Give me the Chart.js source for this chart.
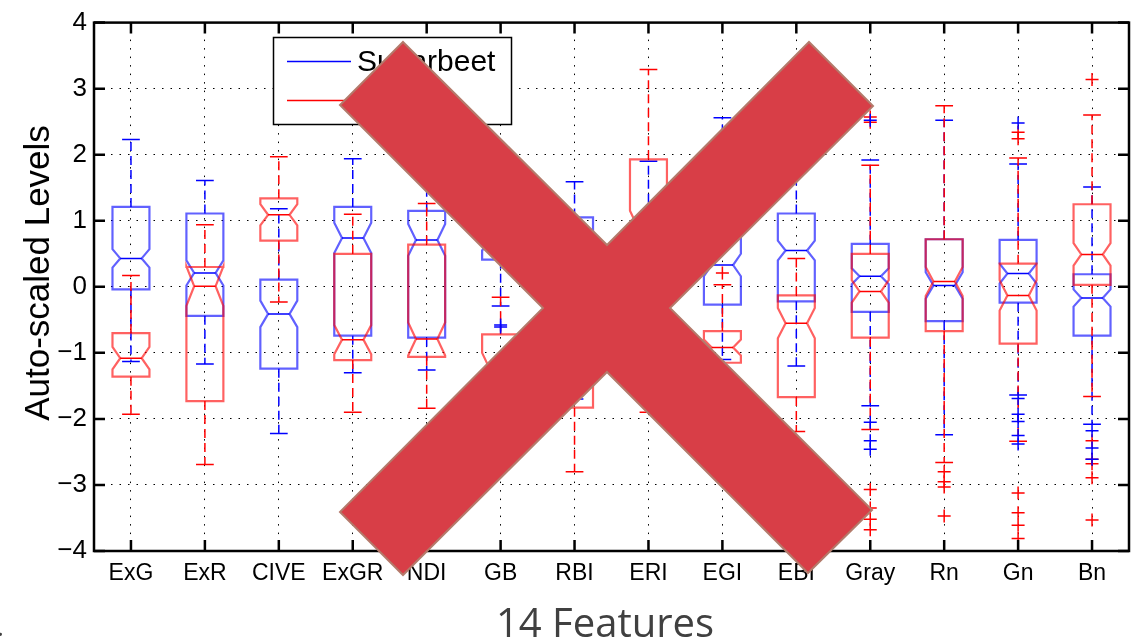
<!DOCTYPE html>
<html><head><meta charset="utf-8">
<script src="https://cdn.jsdelivr.net/npm/chart.js@4.4.1/dist/chart.umd.min.js"></script>
<style>
html,body{margin:0;padding:0;background:#fff;}
#wrap{position:relative;width:1137px;height:644px;overflow:hidden;background:#fff;}
#c{position:absolute;left:0;top:0;}
#xov{position:absolute;left:0;top:0;pointer-events:none;}
#feat{position:absolute;left:405px;width:400px;top:602px;text-align:center;font-family:'Open Sans',sans-serif;font-size:40px;line-height:1;color:#404040;white-space:nowrap;}
#dot{position:absolute;left:-3px;top:613px;font-family:'Open Sans',sans-serif;font-size:26px;line-height:1;color:#404040;}
</style></head>
<body>
<div id="wrap">
<canvas id="c" width="1137" height="644"></canvas>
<svg id="xov" width="1137" height="644"><polygon points="403,42 607,245 809,42 873,106 670,308 872,510 808,573 607,372 403,575 340,512 543,308 340,105" fill="#d83e47" stroke="#b47a6b" stroke-width="2" stroke-linejoin="miter"/></svg>
<div id="feat">14 Features</div>
<div id="dot">.</div>
</div>
<script>
const categories = ['ExG','ExR','CIVE','ExGR','NDI','GB','RBI','ERI','EGI','EBI','Gray','Rn','Gn','Bn'];
const yTicks = [-4,-3,-2,-1,0,1,2,3,4];
const seriesNames = ['Sugarbeet','Weed'];

// Sugarbeet (blue)
const sbUpper  = [2.23,1.61,1.18,1.94,1.60,1.90,1.59,1.90,2.56,1.75,1.92,2.52,1.86,1.51];
const sbQ3     = [1.21,1.11,0.11,1.21,1.15,1.00,1.05,0.85,1.05,1.11,0.65,0.72,0.71,0.19];
const sbMedian = [0.43,0.21,-0.41,0.74,0.71,0.70,0.35,0.20,0.33,0.55,0.16,0.02,0.20,-0.17];
const sbQ1     = [-0.04,-0.44,-1.24,-0.74,-0.77,0.41,-0.45,-0.50,-0.27,-0.22,-0.38,-0.52,-0.24,-0.74];
const sbLower  = [-1.13,-1.17,-2.22,-1.30,-1.26,-0.29,-1.70,-1.60,-1.10,-1.20,-1.80,-2.24,-1.64,-2.08];
const sbNotch  = [0.14,0.19,0.20,0.23,0.24,0.15,0.20,0.20,0.17,0.15,0.12,0.20,0.15,0.13];
const sbOutliers = [[],[],[],[],[],[-0.58,-0.61],[],[],[],[],[2.52,-2.05,-2.33,-2.46],[],[2.48,-1.69,-1.93,-2.04,-2.25,-2.38],[-2.18,-2.44,-2.61]];

// Weed (red)
const wdUpper  = [0.17,0.94,1.97,1.10,1.26,-0.16,0.90,3.29,0.03,0.43,1.84,2.74,1.95,2.60];
const wdQ3     = [-0.70,0.30,1.34,0.50,0.64,-0.72,0.20,1.93,-0.67,-0.13,0.50,0.72,0.35,1.25];
const wdMedian = [-1.08,0.01,1.09,-0.80,-0.79,-1.25,-0.60,0.90,-0.92,-0.55,-0.07,0.08,-0.13,0.49];
const wdQ1     = [-1.36,-1.73,0.70,-1.11,-1.06,-1.75,-1.83,-0.40,-1.15,-1.67,-0.77,-0.67,-0.86,0.03];
const wdLower  = [-1.93,-2.69,-0.23,-1.90,-1.84,-2.70,-2.80,-1.90,-1.70,-2.19,-2.16,-2.66,-2.34,-1.66];
const wdNotch  = [0.17,0.30,0.16,0.22,0.25,0.25,0.25,0.25,0.12,0.23,0.17,0.22,0.23,0.17];
const wdOutliers = [[],[],[],[],[],[],[],[],[0.21],[],[2.57,2.49,-3.07,-3.35,-3.52,-3.68],[-2.80,-2.95,-3.03,-3.47],[2.34,2.24,-3.12,-3.42,-3.61,-3.81],[3.14,-2.33,-2.61,-2.68,-2.89,-3.53]];

const BLUE = '0,0,255', RED = '255,0,0';
const BOX_W = 0.5, CAP_W = 0.24, NOTCH_RATIO = 0.58;
const FONT = "'Liberation Sans', Arial, Helvetica, sans-serif";

function toPoints(outs){
  const pts = [];
  outs.forEach((arr,i)=>arr.forEach(v=>pts.push({x:i+1,y:v})));
  return pts;
}

function drawSeries(ctx, xs, ys, up, q3, med, q1, lo, notch, rgb){
  for(let i=0;i<categories.length;i++){
    const cx = xs.getPixelForValue(i+1);
    const half = xs.getPixelForValue(i+1+BOX_W/2) - cx;
    const nh = half*NOTCH_RATIO;
    const ch = xs.getPixelForValue(i+1+CAP_W/2) - cx;
    const yU = ys.getPixelForValue(up[i]), yQ3 = ys.getPixelForValue(q3[i]);
    const yM = ys.getPixelForValue(med[i]), yQ1 = ys.getPixelForValue(q1[i]);
    const yL = ys.getPixelForValue(lo[i]);
    const yNt = ys.getPixelForValue(med[i]+notch[i]), yNb = ys.getPixelForValue(med[i]-notch[i]);
    ctx.strokeStyle = 'rgb('+rgb+')';
    ctx.lineWidth = 1.5;
    ctx.setLineDash([9,5]);
    ctx.beginPath();
    ctx.moveTo(cx,yQ3); ctx.lineTo(cx,yU);
    ctx.moveTo(cx,yQ1); ctx.lineTo(cx,yL);
    ctx.stroke();
    ctx.setLineDash([]);
    ctx.beginPath();
    ctx.moveTo(cx-ch,yU); ctx.lineTo(cx+ch,yU);
    ctx.moveTo(cx-ch,yL); ctx.lineTo(cx+ch,yL);
    ctx.stroke();
    ctx.strokeStyle = 'rgba('+rgb+',0.62)';
    ctx.lineWidth = 2.2;
    ctx.beginPath();
    ctx.moveTo(cx-half,yQ3); ctx.lineTo(cx+half,yQ3);
    ctx.lineTo(cx+half,yNt); ctx.lineTo(cx+nh,yM); ctx.lineTo(cx+half,yNb);
    ctx.lineTo(cx+half,yQ1); ctx.lineTo(cx-half,yQ1);
    ctx.lineTo(cx-half,yNb); ctx.lineTo(cx-nh,yM); ctx.lineTo(cx-half,yNt);
    ctx.closePath();
    ctx.stroke();
    ctx.strokeStyle = 'rgb('+rgb+')';
    ctx.lineWidth = 1.5;
    ctx.beginPath();
    ctx.moveTo(cx-nh,yM); ctx.lineTo(cx+nh,yM);
    ctx.stroke();
  }
}

const boxPlugin = {
  id:'notchedBoxes',
  beforeDatasetsDraw(chart){
    const {ctx, chartArea:a, scales:{x,y}} = chart;
    ctx.save();
    ctx.beginPath(); ctx.rect(a.left,a.top,a.right-a.left,a.bottom-a.top); ctx.clip();
    drawSeries(ctx,x,y,sbUpper,sbQ3,sbMedian,sbQ1,sbLower,sbNotch,BLUE);
    drawSeries(ctx,x,y,wdUpper,wdQ3,wdMedian,wdQ1,wdLower,wdNotch,RED);
    ctx.restore();
  },
  afterDraw(chart){
    const {ctx, chartArea:a, scales:{x,y}} = chart;
    ctx.save();
    ctx.strokeStyle = '#000'; ctx.lineWidth = 2.5; ctx.setLineDash([]);
    ctx.strokeRect(a.left,a.top,a.right-a.left,a.bottom-a.top);
    ctx.beginPath();
    categories.forEach((c,i)=>{
      const px = x.getPixelForValue(i+1);
      ctx.moveTo(px,a.top); ctx.lineTo(px,a.top+11);
      ctx.moveTo(px,a.bottom); ctx.lineTo(px,a.bottom-11);
    });
    yTicks.forEach(v=>{
      const py = y.getPixelForValue(v);
      ctx.moveTo(a.left,py); ctx.lineTo(a.left+11,py);
      ctx.moveTo(a.right,py); ctx.lineTo(a.right-11,py);
    });
    ctx.stroke();
    ctx.save();
    ctx.translate(39, 273);
    ctx.rotate(-Math.PI/2);
    ctx.fillStyle = '#000';
    ctx.font = '35px ' + FONT;
    ctx.textAlign = 'center'; ctx.textBaseline = 'middle';
    ctx.fillText('Auto-scaled Levels',0,0);
    ctx.restore();
    ctx.fillStyle = '#fff';
    ctx.fillRect(273.5,37.5,238,87);
    ctx.strokeStyle = '#000'; ctx.lineWidth = 1.5;
    ctx.strokeRect(273.5,37.5,238,87);
    ctx.strokeStyle = 'rgb('+BLUE+')';
    ctx.beginPath(); ctx.moveTo(287,61.5); ctx.lineTo(351,61.5); ctx.stroke();
    ctx.strokeStyle = 'rgb('+RED+')';
    ctx.beginPath(); ctx.moveTo(287,100.5); ctx.lineTo(351,100.5); ctx.stroke();
    ctx.fillStyle = '#000';
    ctx.font = '30px ' + FONT;
    ctx.textAlign = 'left'; ctx.textBaseline = 'alphabetic';
    ctx.fillText(seriesNames[0],357,71);
    ctx.fillText(seriesNames[1],357,110);
    ctx.restore();
  }
};

new Chart(document.getElementById('c'), {
  type:'scatter',
  data:{
    datasets:[
      {label:seriesNames[0], data:toPoints(sbOutliers), pointStyle:'cross', radius:6.5, borderColor:'rgb(0,0,255)', borderWidth:1.5, backgroundColor:'rgb(0,0,255)'},
      {label:seriesNames[1], data:toPoints(wdOutliers), pointStyle:'cross', radius:6.5, borderColor:'rgb(255,0,0)', borderWidth:1.5, backgroundColor:'rgb(255,0,0)'}
    ]
  },
  options:{
    responsive:false, animation:false,
    layout:{padding:{left:0,right:6,top:20,bottom:0}},
    plugins:{legend:{display:false}, tooltip:{enabled:false}},
    scales:{
      x:{
        type:'linear', min:0.5, max:14.5,
        afterBuildTicks:(s)=>{ s.ticks = categories.map((c,i)=>({value:i+1})); },
        afterFit:(s)=>{ s.height = 93; },
        ticks:{callback:(v)=>categories[Math.round(v)-1] || '', color:'#000', font:{family:FONT,size:23}, padding:9, autoSkip:false, maxRotation:0},
        grid:{color:'#000', lineWidth:1, drawTicks:false},
        border:{display:false, dash:[1.5,7]}
      },
      y:{
        type:'linear', min:-4, max:4,
        afterBuildTicks:(s)=>{ s.ticks = yTicks.map(v=>({value:v})); },
        afterFit:(s)=>{ s.width = 94; },
        ticks:{callback:(v)=> v<0 ? '\u2212'+Math.abs(v) : String(v), color:'#000', font:{family:FONT,size:26}, padding:7},
        grid:{color:'#000', lineWidth:1, drawTicks:false},
        border:{display:false, dash:[1.5,7]}
      }
    }
  },
  plugins:[boxPlugin]
});
</script>
</body></html>
